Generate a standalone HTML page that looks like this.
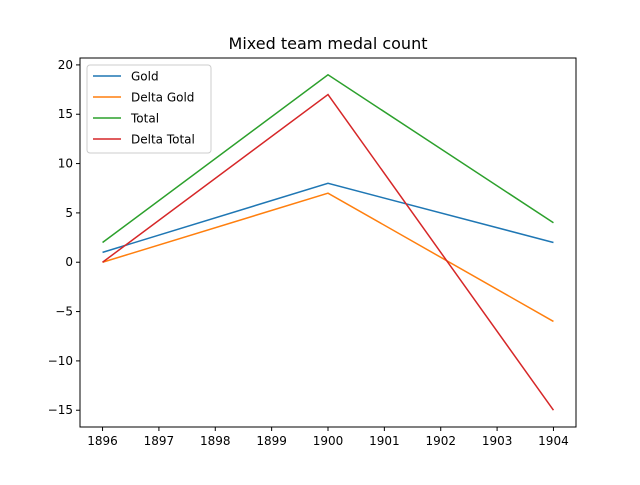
<!DOCTYPE html>
<html><head><meta charset="utf-8"><style>
body{margin:0;background:#fff;}
svg text{font-family:"DejaVu Sans","Liberation Sans",sans-serif;}
</style></head><body>
<svg id="chart" width="640" height="480" xmlns="http://www.w3.org/2000/svg">
<rect width="640" height="480" fill="#fff"/>
<text x="328" y="49" font-size="16" text-anchor="middle">Mixed team medal count</text>
<g id="grid"></g>
<g id="lines"></g>
<rect x="80" y="58" width="496" height="369" fill="none" stroke="#000" stroke-width="1"/>
<g id="legend"></g>
</svg>
<script>
const years=[1896,1900,1904];
const gold=[1,8,2];
const deltaGold=[0,7,-6];
const total=[2,19,4];
const deltaTotal=[0,17,-15];
const xTicks=[1896,1897,1898,1899,1900,1901,1902,1903,1904];
const yTicks=[-15,-10,-5,0,5,10,15,20];
const seriesNames=["Gold","Delta Gold","Total","Delta Total"];
const seriesData=[gold,deltaGold,total,deltaTotal];
const colors=["#1f77b4","#ff7f0e","#2ca02c","#d62728"];
const NS="http://www.w3.org/2000/svg";
const X0=80,X1=576,Y0=58,Y1=427;
const xmin=1895.6,xmax=1904.4,ymin=-16.7,ymax=20.7;
function xs(v){return X0+(v-xmin)/(xmax-xmin)*(X1-X0);}
function ys(v){return Y1-(v-ymin)/(ymax-ymin)*(Y1-Y0);}
function mk(t,a,p){const e=document.createElementNS(NS,t);for(const k in a)e.setAttribute(k,a[k]);p.appendChild(e);return e;}
const g=document.getElementById('grid');
xTicks.forEach(t=>{const x=xs(t);
const l=mk('line',{x1:x,x2:x,y1:Y1,y2:Y1+4,stroke:'#000'},g);


const tx=mk('text',{x:x,y:Y1+18,'font-size':'12','text-anchor':'middle'},g);tx.textContent=t;

});
yTicks.forEach(t=>{const y=ys(t);
const l=mk('line',{x1:X0-4,x2:X0,y1:y,y2:y,stroke:'#000'},g);


const tx=mk('text',{x:X0-7,y:y+4,'font-size':'12','text-anchor':'end'},g);tx.textContent=(t<0?'\u2212'+(-t):t);

});
const lg=document.getElementById('lines');
seriesData.forEach((d,i)=>{
const p=mk('polyline',{points:d.map((v,j)=>xs(years[j])+','+ys(v)).join(' '),fill:'none',stroke:colors[i],'stroke-width':'1.5'},lg);

});
const L=document.getElementById('legend');
const box=mk('rect',{x:87,y:65,width:124,height:88,rx:3,fill:'#fff','fill-opacity':'0.8',stroke:'#ccc'},L);


seriesNames.forEach((n,i)=>{const y=76+i*21;
const l=mk('line',{x1:93,x2:121,y1:y,y2:y,stroke:colors[i],'stroke-width':'1.5'},L);


const t=mk('text',{x:131,y:y+4.5,'font-size':'12'},L);t.textContent=n;

});
</script>
</body></html>
